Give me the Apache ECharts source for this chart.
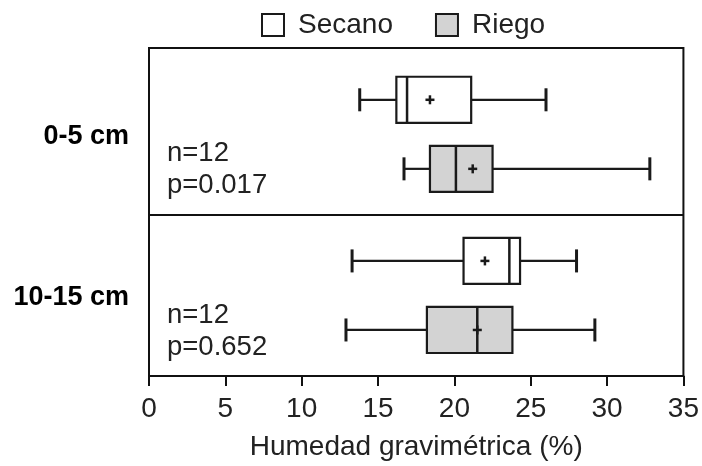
<!DOCTYPE html>
<html>
<head>
<meta charset="utf-8">
<script src="https://cdn.jsdelivr.net/npm/echarts@6/dist/echarts.min.js"></script>
<style>
html,body{margin:0;padding:0;background:#fff;}
#chart{width:702px;height:466px;}
</style>
</head>
<body>
<div id="chart"></div>
<script>
// ---- data ----
const groups = ['0-5 cm', '10-15 cm'];
const seriesNames = ['Secano', 'Riego'];
// [min, Q1, median, Q3, max]
const secanoStats = [[13.8, 16.2, 16.9, 21.1, 26.0], [13.3, 20.6, 23.6, 24.3, 28.0]];
const secanoMean = [18.4, 22.0];
const riegoStats = [[16.7, 18.4, 20.1, 22.5, 32.8], [12.9, 18.2, 21.5, 23.8, 29.2]];
const riegoMean = [21.2, 21.5];
const nLabels = ['n=12', 'n=12'];
const pLabels = ['p=0.017', 'p=0.652'];
const xTicks = [0, 5, 10, 15, 20, 25, 30, 35];

// ---- layout (y axis units) ----
const bandCenter = [1.5, 8.5];
const rowOffset = [-1.5, 1.5];
const FONT = "'Liberation Sans', Arial, sans-serif";
const LINE = '#1a1a1a';
const fills = ['#ffffff', '#d3d3d3'];

function buildData(stats, means, k) {
  return stats.map((s, i) => [s[0], s[1], s[2], s[3], s[4], means[i], bandCenter[i] + rowOffset[k], i]);
}

function makeRender(k) {
  return function (params, api) {
    const mn = api.value(0), q1 = api.value(1), md = api.value(2), q3 = api.value(3), mx = api.value(4);
    const mean = api.value(5), y = api.value(6), gi = api.value(7);
    const c = (x, yy) => api.coord([x, yy]);
    const line = (a, b, w) => ({type: 'line', shape: {x1: a[0], y1: a[1], x2: b[0], y2: b[1]}, style: {stroke: LINE, lineWidth: w}});
    const p1 = c(q1, y - 1), p2 = c(q3, y + 1);
    const m = c(mean, y);
    const children = [
      line(c(mn, y), c(q1, y), 2.2),
      line(c(q3, y), c(mx, y), 2.2),
      line(c(mn, y - 0.5), c(mn, y + 0.5), 3),
      line(c(mx, y - 0.5), c(mx, y + 0.5), 3),
      {type: 'rect', shape: {x: Math.min(p1[0], p2[0]), y: Math.min(p1[1], p2[1]), width: Math.abs(p2[0] - p1[0]), height: Math.abs(p2[1] - p1[1])},
        style: {fill: fills[k], stroke: LINE, lineWidth: 2.2}},
      line(c(md, y - 1), c(md, y + 1), 2.5),
      line([m[0] - 4.5, m[1]], [m[0] + 4.5, m[1]], 2.5),
      line([m[0], m[1] - 4.5], [m[0], m[1] + 4.5], 2.5)
    ];
    if (k === 0) {
      const g = c(0, bandCenter[gi]);
      children.push({type: 'text', x: g[0] - 20, y: g[1] + 2,
        style: {text: groups[gi], font: 'bold 27px ' + FONT, fill: '#000', align: 'right', verticalAlign: 'middle'}});
    } else {
      const g = c(0, y);
      children.push({type: 'text', x: g[0] + 18, y: g[1] + 1,
        style: {text: nLabels[gi] + '\n' + pLabels[gi], font: '27.5px ' + FONT, fill: '#222', align: 'left', verticalAlign: 'middle', lineHeight: 32}});
    }
    return {type: 'group', children: children};
  };
}

const chart = echarts.init(document.getElementById('chart'), null, {renderer: 'canvas'});
chart.setOption({
  animation: false,
  backgroundColor: '#fff',
  legend: {
    left: 256, top: 6,
    icon: 'rect', itemWidth: 22, itemHeight: 22, itemGap: 42,
    textStyle: {fontFamily: FONT, fontSize: 28, color: '#222', padding: [0, 0, 0, 9]},
    data: [
      {name: seriesNames[0], itemStyle: {color: fills[0], borderColor: LINE, borderWidth: 2}},
      {name: seriesNames[1], itemStyle: {color: fills[1], borderColor: LINE, borderWidth: 2}}
    ]
  },
  grid: {left: 149, right: 17, top: 48, bottom: 90, show: true, borderColor: '#111', borderWidth: 2, containLabel: false},
  xAxis: {
    type: 'value', min: xTicks[0], max: xTicks[xTicks.length - 1], interval: 5,
    name: 'Humedad gravimétrica (%)', nameLocation: 'middle', nameGap: 57,
    nameTextStyle: {fontFamily: FONT, fontSize: 28, color: '#222'},
    axisLine: {show: true, onZero: false, lineStyle: {color: '#111', width: 2}},
    axisTick: {show: true, length: 10, lineStyle: {color: '#111', width: 2}},
    axisLabel: {fontFamily: FONT, fontSize: 28, color: '#222', margin: 19},
    splitLine: {show: false}
  },
  yAxis: {
    type: 'value', inverse: true, min: -2.25, max: 12,
    axisLine: {show: false}, axisTick: {show: false}, axisLabel: {show: false}, splitLine: {show: false}
  },
  series: [
    {
      name: seriesNames[0], type: 'custom', renderItem: makeRender(0), clip: false,
      itemStyle: {color: fills[0], borderColor: LINE},
      encode: {x: [0, 1, 2, 3, 4, 5], y: 6},
      data: buildData(secanoStats, secanoMean, 0),
      markLine: {silent: true, symbol: 'none', label: {show: false},
        lineStyle: {color: '#111', width: 2, type: 'solid'}, data: [{yAxis: 5}]}
    },
    {
      name: seriesNames[1], type: 'custom', renderItem: makeRender(1), clip: false,
      itemStyle: {color: fills[1], borderColor: LINE},
      encode: {x: [0, 1, 2, 3, 4, 5], y: 6},
      data: buildData(riegoStats, riegoMean, 1)
    }
  ]
});
</script>
</body>
</html>
